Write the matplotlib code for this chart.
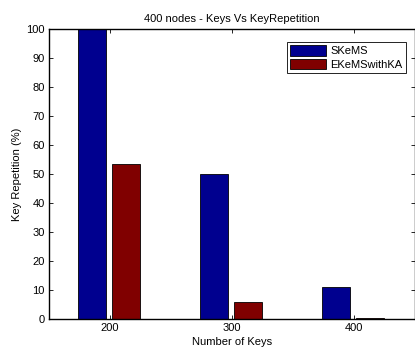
import numpy as np
import matplotlib
matplotlib.use("Agg")
from matplotlib import pyplot as plt

keys = [200, 300, 400]
skems = [100, 50, 11]
ekems = [53.5, 5.8, 0.3]
series_names = ["SKeMS", "EKeMSwithKA"]
yticks = [0, 10, 20, 30, 40, 50, 60, 70, 80, 90, 100]

plt.rcParams['font.family'] = ['Liberation Sans', 'DejaVu Sans']
plt.rcParams['font.size'] = 8

fig = plt.figure(figsize=(4.15, 3.49), dpi=100)
ax = fig.add_axes([0.118, 0.086, 0.882, 0.831])

x = np.array(keys, dtype=float)
w = 23
ax.bar(x - 14.5, skems, w, color='#00008F', edgecolor='black', linewidth=0.6, label=series_names[0])
ax.bar(x + 13.5, ekems, w, color='#800000', edgecolor='black', linewidth=0.6, label=series_names[1])

ax.set_xlim(150, 450)
ax.set_ylim(0, 100)
ax.set_xticks(keys)
ax.set_yticks(yticks)
ax.tick_params(direction='in', top=True, right=True, length=3, width=0.6, pad=3)
for s in ax.spines.values():
    s.set_linewidth(1.0)

ax.set_title("400 nodes - Keys Vs KeyRepetition", fontsize=8, pad=5)
ax.set_xlabel("Number of Keys", labelpad=3)
ax.set_ylabel("Key Repetition (%)", labelpad=3)

leg = ax.legend(loc='upper right', bbox_to_anchor=(0.975, 0.955), fancybox=False,
                edgecolor='black', framealpha=1, handlelength=3.2, handleheight=1.1,
                borderpad=0.3, labelspacing=0.2, handletextpad=0.4, borderaxespad=0)
leg.get_frame().set_linewidth(0.6)

fig.savefig("out.png", dpi=100)
